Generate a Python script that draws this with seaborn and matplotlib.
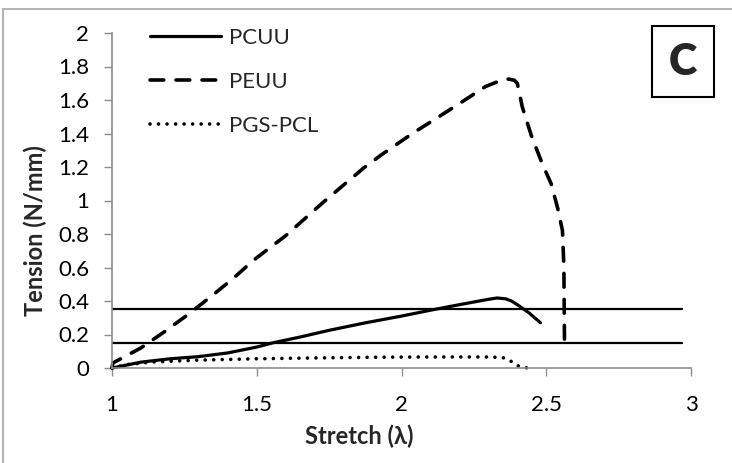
import matplotlib
matplotlib.use("Agg")
import matplotlib.pyplot as plt
from matplotlib.patches import Rectangle
from matplotlib.ticker import FuncFormatter
import numpy as np
import pandas as pd
import seaborn as sns

# Tension-stretch curves
pcuu_x = [1.00, 1.10, 1.20, 1.30, 1.40, 1.50, 1.555, 1.65, 1.75, 1.876, 2.00, 2.10,
          2.20, 2.30, 2.33, 2.36, 2.38, 2.40, 2.44, 2.48]
pcuu_y = [0.000, 0.035, 0.055, 0.068, 0.090, 0.125, 0.150, 0.185, 0.225, 0.270, 0.310, 0.345,
          0.378, 0.410, 0.418, 0.413, 0.400, 0.378, 0.330, 0.270]

peuu_x = [1.00, 1.003, 1.10, 1.18, 1.26, 1.34, 1.42, 1.49, 1.60, 1.73, 1.87, 1.93, 2.04,
          2.12, 2.21, 2.29, 2.34, 2.37, 2.39, 2.40, 2.417, 2.448, 2.486, 2.517, 2.54,
          2.556, 2.561, 2.562, 2.563]
peuu_y = [0.000, 0.030, 0.120, 0.215, 0.316, 0.424, 0.537, 0.645, 0.790, 0.990, 1.195, 1.272, 1.403,
          1.490, 1.590, 1.680, 1.715, 1.725, 1.718, 1.700, 1.560, 1.390, 1.220, 1.100, 0.950,
          0.820, 0.600, 0.350, 0.170]

pgs_x = [1.00, 1.05, 1.14, 1.30, 1.50, 1.70, 1.90, 2.10, 2.30, 2.35, 2.372, 2.396, 2.418, 2.448]
pgs_y = [0.000, 0.020, 0.036, 0.047, 0.055, 0.060, 0.064, 0.066, 0.066, 0.062, 0.048, 0.018, 0.002, 0.000]

# Reference tension levels
ref_levels = [0.35, 0.15]
ref_x = [1.0, 2.97]

x_ticks = [1, 1.5, 2, 2.5, 3]
y_ticks = [0, 0.2, 0.4, 0.6, 0.8, 1.0, 1.2, 1.4, 1.6, 1.8, 2.0]

sns.set_theme(style="white")
plt.rcParams["font.family"] = ["Lato", "DejaVu Sans"]

W, H = 732, 463
fig = plt.figure(figsize=(W / 100, H / 100), dpi=100)
ax = fig.add_axes([112 / W, 1 - 368 / H, (691 - 112) / W, (368 - 33) / H])

axis_grey = "#8c8c8c"

for lvl in ref_levels:
    ref = pd.DataFrame({"x": ref_x, "y": [lvl, lvl]})
    sns.lineplot(data=ref, x="x", y="y", ax=ax, color="black", linewidth=1.6,
                 estimator=None, sort=False, legend=False)

series = [
    ("PCUU", pcuu_x, pcuu_y, dict(linestyle="-", linewidth=2.3)),
    ("PEUU", peuu_x, peuu_y, dict(linestyle=(0, (3.8, 3.4)), linewidth=2.6,
                                  dash_capstyle="round")),
    ("PGS-PCL", pgs_x, pgs_y, dict(linestyle=(0, (0.01, 2.35)), linewidth=2.6,
                                   dash_capstyle="round")),
]
handles = []
for name, xs, ys, style in series:
    df = pd.DataFrame({"x": xs, "y": ys})
    sns.lineplot(data=df, x="x", y="y", ax=ax, color="black", estimator=None,
                 sort=False, legend=False, **style)
    ln = ax.lines[-1]
    ln.set_clip_on(False)
    ln.set_solid_capstyle("round")
    ln.set_label(name)
    handles.append(ln)

ax.set_xlim(1, 3)
ax.set_ylim(0, 2)
ax.set_xticks(x_ticks)
ax.set_yticks(y_ticks)
ax.xaxis.set_major_formatter(FuncFormatter(lambda v, p: f"{v:g}"))
ax.yaxis.set_major_formatter(FuncFormatter(lambda v, p: f"{v:g}"))
ax.tick_params(axis="both", which="both", direction="out", length=5.5, width=1.0,
               color=axis_grey, labelsize=16, labelcolor="black")
ax.tick_params(axis="y", pad=11, left=True)
ax.tick_params(axis="x", pad=14, bottom=True)
for side in ["top", "right"]:
    ax.spines[side].set_visible(False)
for side in ["left", "bottom"]:
    ax.spines[side].set_color(axis_grey)
    ax.spines[side].set_linewidth(1.2)
ax.grid(False)

ax.set_xlabel("")
ax.set_ylabel("")
fig.text(359 / W, 1 - 436 / H, "Stretch (λ)", ha="center", va="center",
         fontsize=17, fontweight="bold")
fig.text(35 / W, 1 - 231 / H, "Tension (N/mm)", ha="center", va="center",
         rotation=90, fontsize=17, fontweight="bold")

leg = ax.legend(handles=handles, loc="upper left",
                bbox_to_anchor=(150 / W, 1 - 28 / H), bbox_transform=fig.transFigure,
                frameon=False, fontsize=16, handlelength=3.2, handletextpad=0.35,
                labelspacing=1.08, borderpad=0, borderaxespad=0)

# Panel tag
fig.add_artist(Rectangle((652 / W, 1 - 97 / H), 62 / W, 71 / H, transform=fig.transFigure,
                         fill=False, edgecolor="black", linewidth=1.5))
fig.text(683 / W, 1 - 62 / H, "C", ha="center", va="center", fontsize=31,
         fontweight="heavy")

# Chart frame
fig.add_artist(Rectangle((3 / W, -0.05), 1.1, 1 - 9 / H + 0.05, transform=fig.transFigure,
                         fill=False, edgecolor="#b4b4b4", linewidth=1.5))

fig.savefig("out.png", dpi=100)
